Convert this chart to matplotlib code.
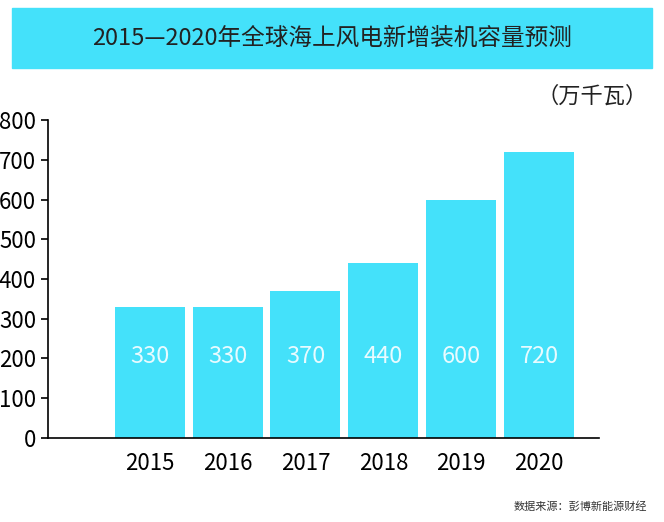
import matplotlib.pyplot as plt
from matplotlib.patches import Rectangle

plt.rcParams['font.family'] = ['Noto Sans CJK SC', 'DejaVu Sans']

years = ['2015', '2016', '2017', '2018', '2019', '2020']
values = [330, 330, 370, 440, 600, 720]
bar_color = '#44e1fa'

fig = plt.figure(figsize=(6.64, 5.22), dpi=100)
fig.patches.append(Rectangle((0.018, 0.87), 0.964, 0.115, transform=fig.transFigure,
                             color=bar_color, zorder=0))
fig.text(0.5, 0.927, '2015—2020年全球海上风电新增装机容量预测', ha='center', va='center',
         fontsize=17, color='#222222')
fig.text(0.975, 0.815, '（万千瓦）', ha='right', va='center', fontsize=16, color='#222222')
fig.text(0.975, 0.03, '数据来源：彭博新能源财经', ha='right', va='center', fontsize=8, color='#333333')

ax = fig.add_axes([0.072, 0.161, 0.83, 0.609])
x = range(len(years))
ax.bar(x, values, width=0.9, color=bar_color)
for i, v in enumerate(values):
    ax.text(i, 205, str(v), ha='center', va='center', fontsize=17, color='#e8fbff')
ax.set_xlim(-1.31, 5.77)
ax.set_ylim(0, 800)
ax.set_yticks(range(0, 801, 100))
ax.set_xticks(list(x))
ax.set_xticklabels(years)
ax.tick_params(axis='x', length=0, labelsize=16, pad=10)
ax.tick_params(axis='y', labelsize=16, length=5, width=1.2)
for s in ['top', 'right']:
    ax.spines[s].set_visible(False)
for s in ['left', 'bottom']:
    ax.spines[s].set_linewidth(1.2)

fig.savefig('out.png', dpi=100)
